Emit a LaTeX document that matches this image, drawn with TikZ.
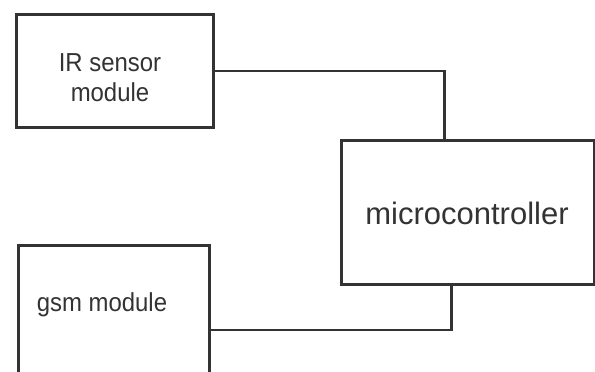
\documentclass[tikz,border=0pt]{standalone}
\usepackage{fontspec}
\setmainfont{Liberation Sans}
\newfontfamily\narrowsans[FakeStretch=0.92]{Liberation Sans}
\begin{document}
\begin{tikzpicture}[x=1pt,y=-1pt,
  box/.style={draw=black!80,line width=2.6pt,rectangle,inner sep=0pt,anchor=north west},
  wire/.style={draw=black!80,line width=2.6pt},
  lbl/.style={text=black!80,font=\narrowsans\fontsize{26}{30}\selectfont,align=center,inner sep=0pt},
  biglbl/.style={lbl,font=\fontsize{31}{36}\selectfont}]
\clip (0,0) rectangle (595,372);
\fill[white] (0,0) rectangle (595,372);
\node[box,minimum width=197pt,minimum height=113pt] (ir) at (15,13) {};
\node[box,minimum width=253pt,minimum height=144pt] (mc) at (340,139) {};
\node[box,minimum width=191pt,minimum height=140pt] (gsm) at (17,244) {};
\node[lbl] (irt) at (110,78) {IR sensor\\module};
\node[biglbl] (mct) at (467,213) {microcontroller};
\node[lbl] (gsmt) at (102,305) {gsm module};
\draw[wire] (ir.east) -| ([xshift=-23.5pt]mc.north);
\draw[wire] ([xshift=-16.5pt]mc.south) |- ([yshift=-86pt]gsm.north east);
\end{tikzpicture}
\end{document}
